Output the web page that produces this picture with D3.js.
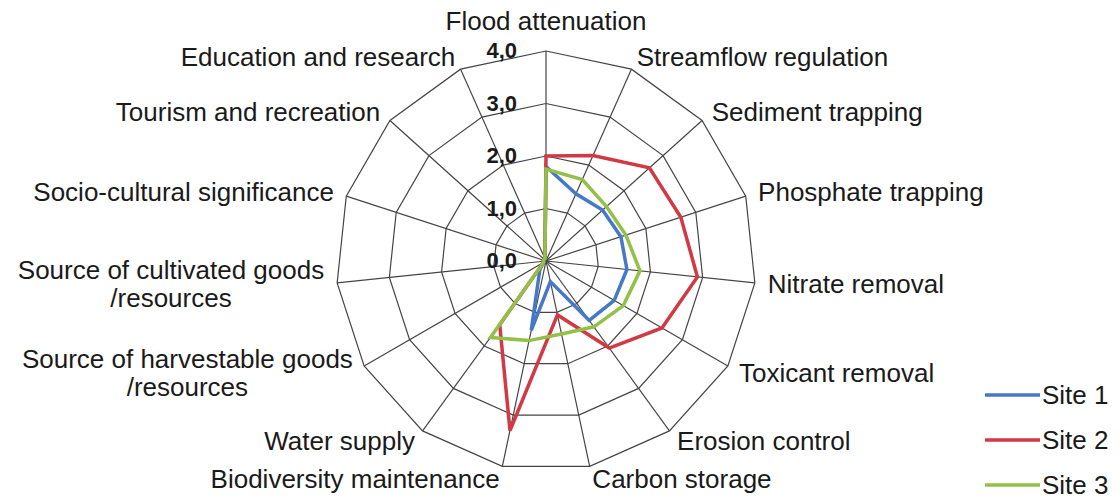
<!DOCTYPE html>
<html>
<head>
<meta charset="utf-8">
<script src="https://cdn.jsdelivr.net/npm/d3@7"></script>
<style>
  body { margin: 0; background: #fff; }
  svg { display: block; font-family: Arial, "Liberation Sans", sans-serif; }
</style>
</head>
<body>
<svg id="radar" width="1120" height="500"></svg>
<script>
// Axis categories (clockwise from top)
const categories = [
  "Flood attenuation",
  "Streamflow regulation",
  "Sediment trapping",
  "Phosphate trapping",
  "Nitrate removal",
  "Toxicant removal",
  "Erosion control",
  "Carbon storage",
  "Biodiversity maintenance",
  "Water supply",
  "Source of harvestable goods\n/resources",
  "Source of cultivated goods\n/resources",
  "Socio-cultural significance",
  "Tourism and recreation",
  "Education and research"
];

const seriesNames = ["Site 1", "Site 2", "Site 3"];

const site1 = [1.8, 1.4, 1.45, 1.5, 1.55, 1.5, 1.4, 0.4, 1.35, 0.2, 0.05, 0.05, 0.05, 0.05, 0.05];
const site2 = [2.0, 2.2, 2.65, 2.7, 2.9, 2.55, 2.05, 1.05, 3.3, 1.5, 0.05, 0.05, 0.05, 0.05, 0.05];
const site3 = [1.75, 1.7, 1.55, 1.6, 1.8, 1.7, 1.55, 1.42, 1.55, 1.8, 0.05, 0.05, 0.05, 0.05, 0.05];

const tickValues = [0, 1, 2, 3, 4];
const tickLabels = ["0,0", "1,0", "2,0", "3,0", "4,0"];

const colors = ["#4677c8", "#d13a44", "#93c047"];

const svg = d3.select("#radar");
const cx = 546, cy = 261;

const r = d3.scaleLinear().domain([0, 4]).range([0, 210]);
const angle = d3.scaleLinear().domain([0, categories.length]).range([0, 2 * Math.PI]);

const pt = (i, v) => [cx + Math.sin(angle(i)) * r(v), cy - Math.cos(angle(i)) * r(v)];

const g = svg.append("g");

// Grid rings
tickValues.slice(1).forEach(t => {
  g.append("polygon")
    .attr("points", categories.map((c, i) => pt(i, t).join(",")).join(" "))
    .attr("fill", "none")
    .attr("stroke", "#454545")
    .attr("stroke-width", 1.2);
});

// Spokes
categories.forEach((c, i) => {
  const [x, y] = pt(i, 4);
  g.append("line")
    .attr("x1", cx).attr("y1", cy)
    .attr("x2", x).attr("y2", y)
    .attr("stroke", "#454545")
    .attr("stroke-width", 1.2);
});

// Series lines
const line = d3.lineRadial()
  .angle((d, i) => angle(i))
  .radius(d => r(d))
  .curve(d3.curveLinearClosed);

[site1, site2, site3].forEach((s, k) => {
  g.append("path")
    .attr("transform", `translate(${cx},${cy})`)
    .attr("d", line(s))
    .attr("fill", "none")
    .attr("stroke", colors[k])
    .attr("stroke-width", 3.5)
    .attr("stroke-linejoin", "miter");
});

// Tick labels
tickValues.forEach((t, i) => {
  svg.append("text")
    .attr("x", cx - 29)
    .attr("y", cy - r(t) + 7)
    .attr("text-anchor", "end")
    .style("font-size", "22px")
    .style("font-weight", "bold")
    .attr("fill", "#1a1a1a")
    .text(tickLabels[i]);
});

// Category labels
categories.forEach((c, i) => {
  const a = angle(i);
  const [vx, vy] = pt(i, 4);
  const s = Math.sin(a);
  const lines = c.split("\n");
  let x, y, anchor;
  if (Math.abs(s) < 0.01) {
    x = vx; y = vy - 21; anchor = "middle";
  } else {
    x = vx + 13 * s;
    y = vy + 9 - 13 * Math.cos(a) - (lines.length - 1) * 14;
    anchor = s > 0 ? "start" : "end";
  }
  const t1 = svg.append("text")
    .attr("x", x).attr("y", y)
    .attr("text-anchor", anchor)
    .style("font-size", "26px")
    .attr("fill", "#1a1a1a")
    .text(lines[0]);
  if (lines.length > 1) {
    const w = t1.node().getComputedTextLength();
    const mid = anchor === "end" ? x - w / 2 : x + w / 2;
    svg.append("text")
      .attr("x", mid).attr("y", y + 28)
      .attr("text-anchor", "middle")
      .style("font-size", "26px")
      .attr("fill", "#1a1a1a")
      .text(lines[1]);
  }
});

// Legend
const legend = svg.append("g").attr("transform", "translate(985,395)");
seriesNames.forEach((name, k) => {
  const row = legend.append("g").attr("transform", `translate(0,${k * 45})`);
  row.append("line")
    .attr("x1", 0).attr("x2", 55)
    .attr("y1", 0).attr("y2", 0)
    .attr("stroke", colors[k])
    .attr("stroke-width", 3.5);
  row.append("text")
    .attr("x", 57).attr("y", 9)
    .style("font-size", "26px")
    .attr("fill", "#1a1a1a")
    .text(name);
});
</script>
</body>
</html>
